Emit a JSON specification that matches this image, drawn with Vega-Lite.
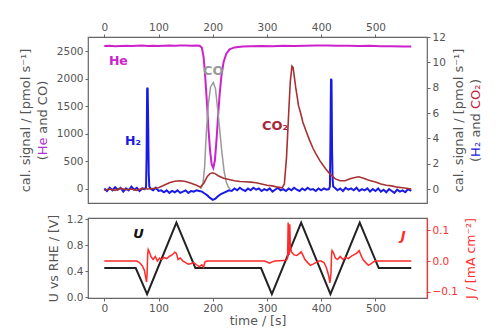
{
  "$schema": "https://vega.github.io/schema/vega-lite/v6.json",
  "padding": {"left": 18, "top": 21, "right": 5, "bottom": 5},
  "config": {
    "font": "DejaVu Sans",
    "view": {"stroke": "#666", "strokeWidth": 1.2},
    "axis": {"grid": false, "domain": false, "labelFont": "DejaVu Sans", "labelFontSize": 10.5, "labelColor": "#555", "tickColor": "#666", "tickSize": 3, "labelPadding": 2, "titleFont": "DejaVu Sans", "titleFontSize": 12.5, "titleFontWeight": "normal", "titleColor": "#555", "titleLineHeight": 17}
  },
  "datasets": {
    "left": [
      {"s":"He","t":0,"v":2590},{"s":"He","t":10,"v":2595},{"s":"He","t":20,"v":2588},{"s":"He","t":30,"v":2592},{"s":"He","t":40,"v":2596},{"s":"He","t":50,"v":2590},{"s":"He","t":60,"v":2594},{"s":"He","t":70,"v":2598},{"s":"He","t":80,"v":2592},{"s":"He","t":90,"v":2595},{"s":"He","t":100,"v":2590},{"s":"He","t":110,"v":2596},{"s":"He","t":120,"v":2600},{"s":"He","t":130,"v":2594},{"s":"He","t":140,"v":2598},{"s":"He","t":150,"v":2600},{"s":"He","t":160,"v":2596},{"s":"He","t":170,"v":2598},{"s":"He","t":176,"v":2595},{"s":"He","t":180,"v":2560},{"s":"He","t":183,"v":2400},{"s":"He","t":186,"v":2050},{"s":"He","t":189,"v":1600},{"s":"He","t":192,"v":1100},{"s":"He","t":195,"v":700},{"s":"He","t":198,"v":450},{"s":"He","t":201,"v":380},{"s":"He","t":204,"v":520},{"s":"He","t":207,"v":900},{"s":"He","t":210,"v":1350},{"s":"He","t":213,"v":1750},{"s":"He","t":216,"v":2050},{"s":"He","t":220,"v":2300},{"s":"He","t":225,"v":2450},{"s":"He","t":231,"v":2530},{"s":"He","t":240,"v":2565},{"s":"He","t":255,"v":2580},{"s":"He","t":270,"v":2585},{"s":"He","t":290,"v":2590},{"s":"He","t":310,"v":2588},{"s":"He","t":330,"v":2594},{"s":"He","t":350,"v":2590},{"s":"He","t":370,"v":2596},{"s":"He","t":390,"v":2600},{"s":"He","t":410,"v":2598},{"s":"He","t":430,"v":2594},{"s":"He","t":450,"v":2596},{"s":"He","t":470,"v":2590},{"s":"He","t":490,"v":2594},{"s":"He","t":510,"v":2588},{"s":"He","t":530,"v":2585},{"s":"He","t":550,"v":2580},{"s":"He","t":566,"v":2582},
      {"s":"CO","t":178,"v":0},{"s":"CO","t":182,"v":100},{"s":"CO","t":185,"v":400},{"s":"CO","t":188,"v":1000},{"s":"CO","t":192,"v":1550},{"s":"CO","t":196,"v":1850},{"s":"CO","t":201,"v":1930},{"s":"CO","t":205,"v":1820},{"s":"CO","t":209,"v":1450},{"s":"CO","t":213,"v":1050},{"s":"CO","t":217,"v":650},{"s":"CO","t":221,"v":320},{"s":"CO","t":225,"v":120},{"s":"CO","t":229,"v":30},{"s":"CO","t":232,"v":0}
    ],
    "right": [
      {"s":"H2","t":0,"v":0.05},{"s":"H2","t":5,"v":-0.15},{"s":"H2","t":10,"v":0.1},{"s":"H2","t":15,"v":-0.1},{"s":"H2","t":20,"v":0.15},{"s":"H2","t":25,"v":-0.05},{"s":"H2","t":30,"v":0.1},{"s":"H2","t":35,"v":-0.2},{"s":"H2","t":40,"v":0.05},{"s":"H2","t":45,"v":-0.1},{"s":"H2","t":50,"v":0.2},{"s":"H2","t":55,"v":-0.05},{"s":"H2","t":60,"v":0.1},{"s":"H2","t":65,"v":-0.15},{"s":"H2","t":70,"v":0.05},{"s":"H2","t":74,"v":0.0},{"s":"H2","t":77,"v":0.1},{"s":"H2","t":78,"v":2.5},{"s":"H2","t":79,"v":7.9},{"s":"H2","t":80,"v":8.0},{"s":"H2","t":81,"v":5.0},{"s":"H2","t":82,"v":1.2},{"s":"H2","t":83,"v":0.2},{"s":"H2","t":86,"v":0.0},{"s":"H2","t":90,"v":-0.1},{"s":"H2","t":95,"v":0.1},{"s":"H2","t":100,"v":-0.15},{"s":"H2","t":105,"v":-0.1},{"s":"H2","t":110,"v":-0.25},{"s":"H2","t":115,"v":-0.1},{"s":"H2","t":120,"v":-0.3},{"s":"H2","t":125,"v":-0.15},{"s":"H2","t":130,"v":-0.25},{"s":"H2","t":135,"v":-0.1},{"s":"H2","t":140,"v":-0.3},{"s":"H2","t":145,"v":-0.2},{"s":"H2","t":150,"v":-0.1},{"s":"H2","t":155,"v":-0.3},{"s":"H2","t":160,"v":-0.15},{"s":"H2","t":165,"v":-0.2},{"s":"H2","t":170,"v":-0.1},{"s":"H2","t":175,"v":-0.15},{"s":"H2","t":180,"v":-0.2},{"s":"H2","t":185,"v":-0.35},{"s":"H2","t":190,"v":-0.5},{"s":"H2","t":195,"v":-0.7},{"s":"H2","t":200,"v":-0.85},{"s":"H2","t":205,"v":-0.75},{"s":"H2","t":210,"v":-0.55},{"s":"H2","t":215,"v":-0.4},{"s":"H2","t":220,"v":-0.3},{"s":"H2","t":225,"v":-0.2},{"s":"H2","t":230,"v":-0.1},{"s":"H2","t":235,"v":-0.15},{"s":"H2","t":240,"v":0.05},{"s":"H2","t":245,"v":-0.1},{"s":"H2","t":250,"v":0.1},{"s":"H2","t":255,"v":-0.05},{"s":"H2","t":260,"v":-0.15},{"s":"H2","t":265,"v":0.05},{"s":"H2","t":270,"v":-0.1},{"s":"H2","t":275,"v":0.1},{"s":"H2","t":280,"v":-0.05},{"s":"H2","t":285,"v":0.05},{"s":"H2","t":290,"v":-0.15},{"s":"H2","t":295,"v":0.0},{"s":"H2","t":300,"v":-0.1},{"s":"H2","t":305,"v":0.05},{"s":"H2","t":310,"v":-0.2},{"s":"H2","t":315,"v":-0.05},{"s":"H2","t":320,"v":0.1},{"s":"H2","t":325,"v":-0.1},{"s":"H2","t":330,"v":0.0},{"s":"H2","t":335,"v":-0.15},{"s":"H2","t":340,"v":0.05},{"s":"H2","t":345,"v":-0.1},{"s":"H2","t":350,"v":0.1},{"s":"H2","t":355,"v":-0.05},{"s":"H2","t":360,"v":-0.15},{"s":"H2","t":365,"v":0.05},{"s":"H2","t":370,"v":-0.1},{"s":"H2","t":375,"v":0.1},{"s":"H2","t":380,"v":-0.05},{"s":"H2","t":385,"v":0.0},{"s":"H2","t":390,"v":-0.15},{"s":"H2","t":395,"v":0.05},{"s":"H2","t":400,"v":-0.1},{"s":"H2","t":405,"v":0.05},{"s":"H2","t":410,"v":-0.05},{"s":"H2","t":414,"v":0.0},{"s":"H2","t":416,"v":0.2},{"s":"H2","t":417,"v":4.0},{"s":"H2","t":418,"v":8.7},{"s":"H2","t":419,"v":8.6},{"s":"H2","t":420,"v":3.0},{"s":"H2","t":421,"v":0.8},{"s":"H2","t":422,"v":0.2},{"s":"H2","t":425,"v":0.1},{"s":"H2","t":430,"v":-0.1},{"s":"H2","t":435,"v":0.05},{"s":"H2","t":440,"v":-0.15},{"s":"H2","t":445,"v":0.1},{"s":"H2","t":450,"v":-0.05},{"s":"H2","t":455,"v":0.05},{"s":"H2","t":460,"v":-0.1},{"s":"H2","t":465,"v":0.1},{"s":"H2","t":470,"v":-0.15},{"s":"H2","t":475,"v":0.0},{"s":"H2","t":480,"v":-0.1},{"s":"H2","t":485,"v":0.05},{"s":"H2","t":490,"v":-0.2},{"s":"H2","t":495,"v":0.0},{"s":"H2","t":500,"v":-0.15},{"s":"H2","t":505,"v":0.05},{"s":"H2","t":510,"v":-0.2},{"s":"H2","t":515,"v":-0.05},{"s":"H2","t":520,"v":-0.25},{"s":"H2","t":525,"v":0.0},{"s":"H2","t":530,"v":-0.15},{"s":"H2","t":535,"v":-0.3},{"s":"H2","t":540,"v":-0.05},{"s":"H2","t":545,"v":-0.2},{"s":"H2","t":550,"v":-0.1},{"s":"H2","t":555,"v":-0.25},{"s":"H2","t":560,"v":0.0},{"s":"H2","t":566,"v":-0.15},
      {"s":"CO2","t":0,"v":-0.1},{"s":"CO2","t":10,"v":0.0},{"s":"CO2","t":20,"v":-0.1},{"s":"CO2","t":30,"v":0.05},{"s":"CO2","t":40,"v":-0.05},{"s":"CO2","t":50,"v":0.0},{"s":"CO2","t":60,"v":-0.1},{"s":"CO2","t":70,"v":0.05},{"s":"CO2","t":80,"v":0.0},{"s":"CO2","t":90,"v":0.05},{"s":"CO2","t":100,"v":0.1},{"s":"CO2","t":110,"v":0.3},{"s":"CO2","t":120,"v":0.5},{"s":"CO2","t":130,"v":0.62},{"s":"CO2","t":140,"v":0.66},{"s":"CO2","t":150,"v":0.6},{"s":"CO2","t":160,"v":0.45},{"s":"CO2","t":170,"v":0.3},{"s":"CO2","t":177,"v":0.15},{"s":"CO2","t":184,"v":0.5},{"s":"CO2","t":190,"v":1.0},{"s":"CO2","t":195,"v":1.22},{"s":"CO2","t":200,"v":1.28},{"s":"CO2","t":205,"v":1.2},{"s":"CO2","t":210,"v":1.05},{"s":"CO2","t":220,"v":0.85},{"s":"CO2","t":230,"v":0.75},{"s":"CO2","t":240,"v":0.65},{"s":"CO2","t":250,"v":0.6},{"s":"CO2","t":260,"v":0.58},{"s":"CO2","t":270,"v":0.55},{"s":"CO2","t":280,"v":0.5},{"s":"CO2","t":290,"v":0.4},{"s":"CO2","t":300,"v":0.3},{"s":"CO2","t":310,"v":0.25},{"s":"CO2","t":320,"v":0.15},{"s":"CO2","t":328,"v":0.1},{"s":"CO2","t":332,"v":0.4},{"s":"CO2","t":336,"v":2.5},{"s":"CO2","t":340,"v":6.0},{"s":"CO2","t":343,"v":8.5},{"s":"CO2","t":346,"v":9.7},{"s":"CO2","t":348,"v":9.6},{"s":"CO2","t":350,"v":9.0},{"s":"CO2","t":353,"v":8.0},{"s":"CO2","t":356,"v":7.2},{"s":"CO2","t":358,"v":6.6},{"s":"CO2","t":362,"v":6.0},{"s":"CO2","t":366,"v":5.3},{"s":"CO2","t":371,"v":4.7},{"s":"CO2","t":378,"v":3.9},{"s":"CO2","t":385,"v":3.2},{"s":"CO2","t":390,"v":2.8},{"s":"CO2","t":398,"v":2.2},{"s":"CO2","t":408,"v":1.6},{"s":"CO2","t":416,"v":1.2},{"s":"CO2","t":426,"v":0.8},{"s":"CO2","t":435,"v":0.65},{"s":"CO2","t":444,"v":0.65},{"s":"CO2","t":452,"v":0.8},{"s":"CO2","t":460,"v":0.9},{"s":"CO2","t":469,"v":0.97},{"s":"CO2","t":478,"v":0.85},{"s":"CO2","t":488,"v":0.7},{"s":"CO2","t":500,"v":0.55},{"s":"CO2","t":510,"v":0.4},{"s":"CO2","t":520,"v":0.3},{"s":"CO2","t":530,"v":0.25},{"s":"CO2","t":540,"v":0.15},{"s":"CO2","t":550,"v":0.1},{"s":"CO2","t":560,"v":0.05},{"s":"CO2","t":566,"v":0.0}
    ],
    "labelsTop": [
      {"s":"He","txt":"He","t":26,"v":2320},
      {"s":"CO","txt":"CO","t":201,"v":2140},
      {"s":"H2","txt":"H₂","t":53,"v":870},
      {"s":"CO2","txt":"CO₂","t":315,"v":1140}
    ],
    "U": [
      {"t":0,"v":0.45},{"t":58,"v":0.45},{"t":79,"v":0.05},{"t":133,"v":1.15},{"t":168,"v":0.45},{"t":289,"v":0.45},{"t":309,"v":0.05},{"t":363,"v":1.15},{"t":417,"v":0.05},{"t":471,"v":1.15},{"t":506,"v":0.45},{"t":566,"v":0.45}
    ],
    "J": [
      {"t":0,"v":0.0},{"t":60,"v":0.0},{"t":65,"v":-0.005},{"t":70,"v":-0.015},{"t":74,"v":-0.03},{"t":76,"v":-0.05},{"t":78,"v":-0.068},{"t":79,"v":-0.04},{"t":80,"v":0.02},{"t":81,"v":0.037},{"t":83,"v":0.03},{"t":86,"v":0.015},{"t":90,"v":0.005},{"t":94,"v":0.015},{"t":98,"v":0.0},{"t":102,"v":0.01},{"t":106,"v":0.005},{"t":110,"v":0.012},{"t":115,"v":0.008},{"t":120,"v":0.015},{"t":125,"v":0.02},{"t":130,"v":0.029},{"t":133,"v":0.025},{"t":136,"v":0.005},{"t":140,"v":0.01},{"t":145,"v":0.0},{"t":150,"v":-0.005},{"t":155,"v":-0.01},{"t":160,"v":-0.008},{"t":165,"v":-0.005},{"t":170,"v":-0.012},{"t":175,"v":-0.018},{"t":180,"v":-0.012},{"t":183,"v":-0.02},{"t":186,"v":-0.002},{"t":190,"v":0.0},{"t":295,"v":0.0},{"t":300,"v":-0.003},{"t":305,"v":-0.007},{"t":310,"v":-0.002},{"t":315,"v":0.0},{"t":330,"v":0.002},{"t":336,"v":0.003},{"t":338,"v":0.01},{"t":339,"v":0.125},{"t":340,"v":0.06},{"t":341,"v":0.02},{"t":342,"v":0.12},{"t":343,"v":0.05},{"t":345,"v":0.03},{"t":350,"v":0.02},{"t":355,"v":0.018},{"t":360,"v":0.025},{"t":363,"v":0.03},{"t":366,"v":0.02},{"t":370,"v":0.005},{"t":375,"v":-0.005},{"t":380,"v":-0.014},{"t":385,"v":-0.01},{"t":390,"v":-0.005},{"t":395,"v":0.0},{"t":400,"v":0.0},{"t":405,"v":-0.005},{"t":408,"v":-0.015},{"t":411,"v":-0.03},{"t":414,"v":-0.05},{"t":416,"v":-0.071},{"t":418,"v":-0.04},{"t":419,"v":0.02},{"t":420,"v":0.034},{"t":423,"v":0.025},{"t":426,"v":0.01},{"t":430,"v":0.005},{"t":435,"v":0.015},{"t":440,"v":0.005},{"t":445,"v":0.012},{"t":450,"v":0.008},{"t":455,"v":0.015},{"t":460,"v":0.02},{"t":465,"v":0.025},{"t":470,"v":0.034},{"t":473,"v":0.02},{"t":477,"v":0.005},{"t":482,"v":-0.005},{"t":487,"v":-0.014},{"t":492,"v":-0.008},{"t":497,"v":-0.002},{"t":500,"v":0.0},{"t":566,"v":0.0}
    ],
    "labelsBot": [
      {"s":"U","txt":"U","t":63,"v":0.97},
      {"s":"J","txt":"J","t":551,"v":0.95}
    ]
  },
  "spacing": 8,
  "vconcat": [
    {
      "width": 339,
      "height": 166,
      "encoding": {
        "x": {"field": "t", "type": "quantitative", "scale": {"domain": [-30, 595], "nice": false, "zero": false}, "axis": {"orient": "top", "values": [0,100,200,300,400,500], "title": null}}
      },
      "layer": [
        {
          "encoding": {
            "y": {"field": "v", "type": "quantitative", "scale": {"domain": [-254, 2754], "nice": false, "zero": false}, "axis": {"orient": "left", "values": [0,500,1000,1500,2000,2500], "format": "d", "title": ["cal. signal / [pmol s⁻¹]", "(\u2003\u2004 and CO)"], "titleFontSize": 13, "titleX": -56, "titleY": 83, "titleAngle": 270, "titleAlign": "center", "titleBaseline": "bottom"}}
          },
          "layer": [
            {"data": {"name": "left"}, "transform": [{"filter": "datum.s === 'He'"}], "mark": {"type": "line", "color": "#cc22cc", "strokeWidth": 2}},
            {"data": {"name": "left"}, "transform": [{"filter": "datum.s === 'CO'"}], "mark": {"type": "line", "color": "#999999", "strokeWidth": 1.5}},
            {"data": {"name": "labelsTop"}, "transform": [{"filter": "datum.s === 'He'"}], "mark": {"type": "text", "fontSize": 12.5, "fontWeight": "bold", "color": "#cc22cc"}, "encoding": {"text": {"field": "txt"}}},
            {"data": {"name": "labelsTop"}, "transform": [{"filter": "datum.s === 'CO'"}], "mark": {"type": "text", "fontSize": 13, "fontWeight": "bold", "color": "#999999"}, "encoding": {"text": {"field": "txt"}}},
            {"data": {"name": "labelsTop"}, "transform": [{"filter": "datum.s === 'H2'"}], "mark": {"type": "text", "fontSize": 12.5, "fontWeight": "bold", "color": "#1a1ae6"}, "encoding": {"text": {"field": "txt"}}},
            {"data": {"name": "labelsTop"}, "transform": [{"filter": "datum.s === 'CO2'"}], "mark": {"type": "text", "fontSize": 13, "fontWeight": "bold", "color": "#a8283a"}, "encoding": {"text": {"field": "txt"}}}
          ]
        },
        {
          "encoding": {
            "y": {"field": "v", "type": "quantitative", "scale": {"domain": [-1.1, 12], "nice": false, "zero": false}, "axis": {"orient": "right", "values": [0,2,4,6,8,10,12], "title": ["cal. signal / [pmol s⁻¹]", "(\u2003\u2006 and \u2003\u2002\u2005\u2006)"], "titleFontSize": 13, "titleX": 25, "titleY": 83, "titleAngle": 270, "titleAlign": "center", "titleBaseline": "top"}}
          },
          "layer": [
            {"data": {"name": "right"}, "transform": [{"filter": "datum.s === 'H2'"}], "mark": {"type": "line", "color": "#1a1ae6", "strokeWidth": 2}},
            {"data": {"name": "right"}, "transform": [{"filter": "datum.s === 'CO2'"}], "mark": {"type": "line", "color": "#a83232", "strokeWidth": 1.6}}
          ]
        },
        {
          "data": {"name": "labelsTop"},
          "mark": {"type": "point", "opacity": 0},
          "encoding": {
            "y": {"field": "v", "type": "quantitative", "axis": {"orient": "left", "labels": false, "ticks": false, "domain": false, "title": "He", "titleColor": "#b030d8", "titleFontSize": 13, "titleX": -39, "titleY": 117.7, "titleAngle": 270, "titleAlign": "left", "titleBaseline": "bottom"}}
          }
        },
        {
          "data": {"name": "labelsTop"},
          "mark": {"type": "point", "opacity": 0},
          "encoding": {
            "y": {"field": "v", "type": "quantitative", "axis": {"orient": "right", "labels": false, "ticks": false, "domain": false, "title": "H₂", "titleColor": "#2020e0", "titleFontSize": 13, "titleX": 42, "titleY": 119.4, "titleAngle": 270, "titleAlign": "left", "titleBaseline": "top"}}
          }
        },
        {
          "data": {"name": "labelsTop"},
          "mark": {"type": "point", "opacity": 0},
          "encoding": {
            "y": {"field": "v", "type": "quantitative", "axis": {"orient": "right", "labels": false, "ticks": false, "domain": false, "title": "CO₂", "titleColor": "#c0203a", "titleFontSize": 13, "titleX": 42, "titleY": 71.5, "titleAngle": 270, "titleAlign": "left", "titleBaseline": "top"}}
          }
        }
      ],
      "resolve": {"scale": {"y": "independent"}, "axis": {"y": "independent"}}
    },
    {
      "width": 339,
      "height": 80,
      "encoding": {
        "x": {"field": "t", "type": "quantitative", "scale": {"domain": [-30, 595], "nice": false, "zero": false}, "axis": {"orient": "bottom", "values": [0,100,200,300,400,500], "title": "time / [s]", "titlePadding": 1}}
      },
      "layer": [
        {
          "encoding": {
            "y": {"field": "v", "type": "quantitative", "scale": {"domain": [-0.01, 1.22], "nice": false, "zero": false}, "axis": {"orient": "left", "values": [0,0.4,0.8,1.2], "format": ".1f", "title": "U vs RHE / [V]", "titlePadding": 6}}
          },
          "layer": [
            {"data": {"name": "U"}, "mark": {"type": "line", "color": "#222222", "strokeWidth": 2}},
            {"data": {"name": "labelsBot"}, "transform": [{"filter": "datum.s === 'U'"}], "mark": {"type": "text", "fontSize": 13, "fontWeight": "bold", "fontStyle": "italic", "color": "#111111"}, "encoding": {"text": {"field": "txt"}}},
            {"data": {"name": "labelsBot"}, "transform": [{"filter": "datum.s === 'J'"}], "mark": {"type": "text", "fontSize": 13, "fontWeight": "bold", "fontStyle": "italic", "color": "#ff2a2a"}, "encoding": {"text": {"field": "txt"}}}
          ]
        },
        {
          "encoding": {
            "y": {"field": "v", "type": "quantitative", "scale": {"domain": [-0.12, 0.14], "nice": false, "zero": false}, "axis": {"orient": "right", "values": [-0.1,0,0.1], "format": ".1f", "title": "J / [mA cm⁻²]", "titleAngle": 270, "titleBaseline": "top", "titlePadding": 7, "titleColor": "#ff3030", "labelColor": "#ff3030", "tickColor": "#ff3030", "domain": true, "domainColor": "#ff3030", "domainWidth": 1.2}}
          },
          "layer": [
            {"data": {"name": "J"}, "mark": {"type": "line", "color": "#ff2a2a", "strokeWidth": 1.5}}
          ]
        }
      ],
      "resolve": {"scale": {"y": "independent"}, "axis": {"y": "independent"}}
    }
  ]
}
